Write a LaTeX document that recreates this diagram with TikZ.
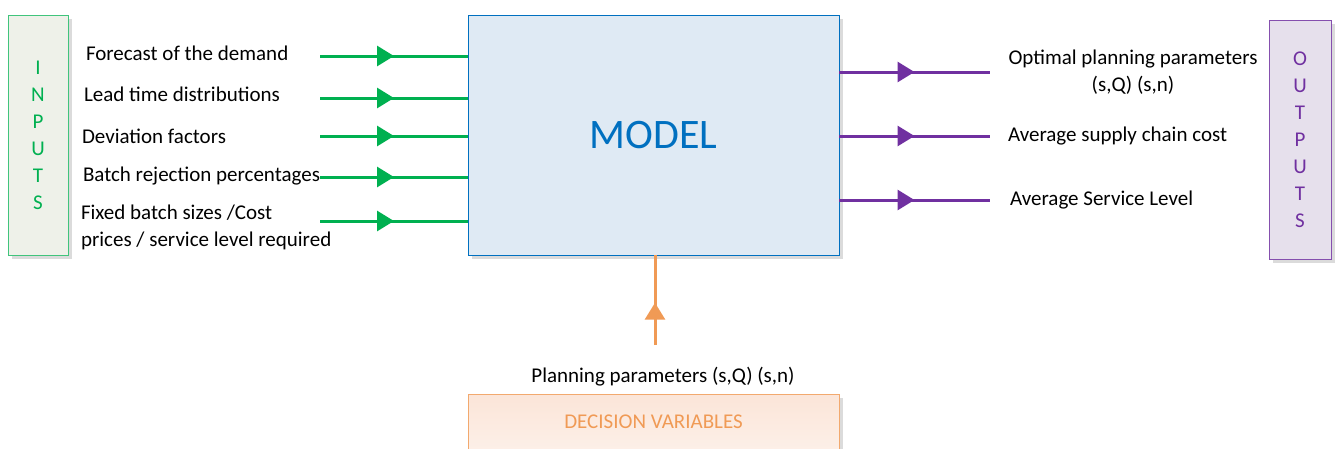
\documentclass[tikz,border=0pt]{standalone}
\usepackage{fontspec}
\setmainfont{Carlito}
\usetikzlibrary{decorations.markings,arrows.meta,shadows}
\definecolor{ingreen}{HTML}{00B050}
\definecolor{outpurple}{HTML}{7030A0}
\definecolor{dvorange}{HTML}{F09A55}
\definecolor{modelblue}{HTML}{0070C0}
\definecolor{modelfill}{HTML}{DFEAF4}
\definecolor{infill}{HTML}{EEF1E9}
\definecolor{outfill}{HTML}{E6E0EC}
\definecolor{dvfill}{HTML}{FBE5D8}
\tikzset{
  x=1pt, y=-1pt,
  every node/.style={inner sep=0pt, outer sep=0pt},
  txt/.style={font=\fontsize{21}{27}\selectfont, text=black},
  boxshadow/.style={drop shadow={shadow xshift=4pt, shadow yshift=-4pt, fill=black!14, opacity=1}},
  sidebox/.style={draw, line width=1pt, boxshadow, align=center,
    font=\fontsize{21}{27}\selectfont},
  midarrow/.style={line width=3pt, postaction={decorate},
    decoration={markings, mark=at position #1 with {\arrow{Triangle[length=17pt,width=20pt]}}}},
  inarrow/.style={midarrow=0.5, draw=ingreen, color=ingreen},
  outarrow/.style={midarrow=0.5, draw=outpurple, color=outpurple},
  dvarrow/.style={midarrow=0.47, draw=dvorange, color=dvorange},
}
\begin{document}
\begin{tikzpicture}
\useasboundingbox (0,0) rectangle (1339,448);

% central model block
\node[draw=modelblue, fill=modelfill, line width=1pt, boxshadow,
      minimum width=371pt, minimum height=240pt,
      font=\fontsize{42}{50}\selectfont, text=modelblue] (model) at (653.5,135) {MODEL};

% inputs and outputs side bars
\node[sidebox, draw=ingreen!75, fill=infill, text=ingreen,
      minimum width=60pt, minimum height=240pt] (inputs) at (38,135)
      {I\\N\\P\\U\\T\\S};
\node[sidebox, draw=outpurple!85, fill=outfill, text=outpurple,
      minimum width=62pt, minimum height=239pt] (outputs) at (1300,139.5)
      {O\\U\\T\\P\\U\\T\\S};

% decision variables block
\node[draw=dvorange!85, line width=1pt, boxshadow,
      top color=dvfill, bottom color=dvfill!60,
      minimum width=371pt, minimum height=56pt,
      font=\fontsize{21}{25}\selectfont, text=dvorange] (dv) at (653.5,422) {DECISION VARIABLES};

% input labels
\node[txt, anchor=west] (l1) at (86,53) {Forecast of the demand};
\node[txt, anchor=west] (l2) at (84,94) {Lead time distributions};
\node[txt, anchor=west] (l3) at (82,136) {Deviation factors};
\node[txt, anchor=west] (l4) at (83,176) {Batch rejection percentages};
\node[txt, anchor=west, align=left] (l5) at (81,227) {Fixed batch sizes /Cost\\prices / service level required};

% input connectors
\coordinate (a1) at (320,56);
\coordinate (a2) at (320,98);
\coordinate (a3) at (320,136);
\coordinate (a4) at (320,177);
\coordinate (a5) at (320,221);
\foreach \c in {a1,a2,a3,a4,a5}
  \draw[inarrow] (\c) -- (\c -| model.west);

% output labels
\node[txt, align=center] (o1) at (1133,72) {Optimal planning parameters\\(s,Q) (s,n)};
\node[txt, anchor=west] (o2) at (1008,136) {Average supply chain cost};
\node[txt, anchor=west] (o3) at (1010,200) {Average Service Level};

% output connectors
\coordinate (b1) at (990,72);
\coordinate (b2) at (990,136);
\coordinate (b3) at (990,200);
\foreach \c in {b1,b2,b3}
  \draw[outarrow] (\c -| model.east) -- (\c);

% decision variables connector
\node[txt] (pp) at (663,377) {Planning parameters (s,Q) (s,n)};
\coordinate (c1) at (655,345);
\draw[dvarrow] (c1) -- (c1 |- model.south);
\end{tikzpicture}
\end{document}
